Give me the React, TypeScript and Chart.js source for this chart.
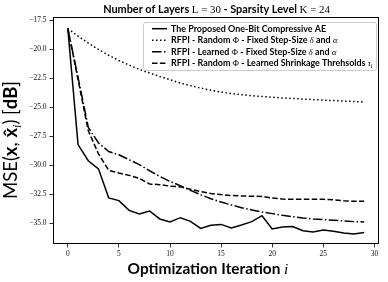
import React, { useEffect, useRef } from "react";
import { Chart, registerables } from "chart.js";

Chart.register(...registerables);

// ---------------- data ----------------
const iterations = [
  0, 1, 2, 3, 4, 5, 6, 7, 8, 9, 10, 11, 12, 13, 14, 15, 16, 17, 18, 19, 20, 21,
  22, 23, 24, 25, 26, 27, 28, 29,
];

const proposedAE = [
  -18.2, -28.2, -29.6, -30.3, -32.8, -33.04, -33.88, -34.19, -33.93, -34.62,
  -34.88, -34.51, -34.83, -35.43, -35.17, -35.09, -35.4, -35.14, -34.85, -34.34,
  -35.48, -35.31, -35.28, -35.63, -35.74, -35.57, -35.69, -35.83, -35.91, -35.78,
];

const randomPhiFixed = [
  -18.2, -18.85, -19.45, -20.0, -20.5, -20.95, -21.35, -21.72, -22.03, -22.33,
  -22.6, -22.9, -23.12, -23.33, -23.52, -23.67, -23.8, -23.9, -23.99, -24.06,
  -24.12, -24.18, -24.23, -24.28, -24.32, -24.37, -24.41, -24.45, -24.49, -24.53,
];

const learnedPhiFixed = [
  -18.2, -22.4, -26.7, -28.07, -28.8, -29.08, -29.51, -29.94, -30.46, -30.95,
  -31.38, -31.75, -32.16, -32.53, -32.87, -33.16, -33.41, -33.65, -33.84, -34.02,
  -34.16, -34.31, -34.42, -34.53, -34.62, -34.68, -34.74, -34.79, -34.85, -34.88,
];

const randomPhiLearnedTau = [
  -18.2, -22.6, -27.0, -29.0, -30.43, -30.66, -30.86, -31.12, -31.6, -31.66,
  -31.79, -31.85, -32.05, -32.25, -32.42, -32.52, -32.6, -32.64, -32.66, -32.68,
  -32.82, -32.9, -32.93, -32.93, -32.93, -32.93, -32.96, -33.04, -33.1, -33.1,
];

const xTickValues = [0, 5, 10, 15, 20, 25, 30];
const yTickValues = [-35, -32.5, -30, -27.5, -25, -22.5, -20, -17.5];

// ---------------- text helpers ----------------
const SANS = '"Lato", "DejaVu Sans", sans-serif';
const SERIF = '"Liberation Serif", "DejaVu Serif", serif';

type Seg = { t: string; s: string; k?: number; dy?: number };

function fontOf(style: string, size: number) {
  switch (style) {
    case "b":
      return `bold ${size}px ${SANS}`;
    case "r":
      return `${size}px ${SANS}`;
    case "m":
      return `${size}px ${SERIF}`;
    case "mi":
      return `italic ${size}px ${SERIF}`;
    case "mb":
      return `bold ${size}px ${SERIF}`;
    default:
      return `${size}px ${SANS}`;
  }
}

function measureSegs(ctx: CanvasRenderingContext2D, segs: Seg[], size: number) {
  let w = 0;
  for (const sg of segs) {
    ctx.font = fontOf(sg.s, size * (sg.k || 1));
    w += ctx.measureText(sg.t).width;
  }
  return w;
}

function fitSize(ctx: CanvasRenderingContext2D, segs: Seg[], target: number) {
  const w = measureSegs(ctx, segs, 10);
  return (10 * target) / w;
}

function drawSegs(
  ctx: CanvasRenderingContext2D,
  segs: Seg[],
  size: number,
  x0: number,
  y: number
) {
  let x = x0;
  ctx.textBaseline = "alphabetic";
  ctx.textAlign = "left";
  for (const sg of segs) {
    const sz = size * (sg.k || 1);
    ctx.font = fontOf(sg.s, sz);
    ctx.fillText(sg.t, x, y + (sg.dy || 0) * size);
    x += ctx.measureText(sg.t).width;
  }
}

const titleSegs: Seg[] = [
  { t: "Number of Layers ", s: "b" },
  { t: "L = 30", s: "m" },
  { t: " - Sparsity Level ", s: "b" },
  { t: "K = 24", s: "m" },
];

const legendRows: Seg[][] = [
  [{ t: "The Proposed One-Bit Compressive AE", s: "b" }],
  [
    { t: "RFPI - Random ", s: "b" },
    { t: "Φ", s: "m" },
    { t: " - Fixed Step-Size ", s: "b" },
    { t: "δ", s: "mi" },
    { t: " and ", s: "b" },
    { t: "α", s: "mi" },
  ],
  [
    { t: "RFPI - Learned ", s: "b" },
    { t: "Φ", s: "m" },
    { t: " - Fixed Step-Size ", s: "b" },
    { t: "δ", s: "mi" },
    { t: " and ", s: "b" },
    { t: "α", s: "mi" },
  ],
  [
    { t: "RFPI - Random ", s: "b" },
    { t: "Φ", s: "m" },
    { t: " - Learned Shrinkage Threhsolds ", s: "b" },
    { t: "τ", s: "mi" },
    { t: "i", s: "mi", k: 0.7, dy: 0.2 },
  ],
];

const legendDashes: number[][] = [[], [1.5, 2.5], [9.6, 2.4, 1.5, 2.4], [5.5, 2.4]];

const xLabelSegs: Seg[] = [
  { t: "Optimization Iteration ", s: "b" },
  { t: "i", s: "mi" },
];

const yLabelSegs: Seg[] = [
  { t: "MSE(", s: "r" },
  { t: "x", s: "b" },
  { t: ", ", s: "r" },
  { t: "x\u0302", s: "b" },
  { t: "i", s: "mi", k: 0.65, dy: 0.2 },
  { t: ") [", s: "r" },
  { t: "dB", s: "b" },
  { t: "]", s: "r" },
];

function roundRect(ctx: CanvasRenderingContext2D, x: number, y: number, w: number, h: number, r: number) {
  ctx.beginPath();
  ctx.moveTo(x + r, y);
  ctx.lineTo(x + w - r, y);
  ctx.arcTo(x + w, y, x + w, y + r, r);
  ctx.lineTo(x + w, y + h - r);
  ctx.arcTo(x + w, y + h, x + w - r, y + h, r);
  ctx.lineTo(x + r, y + h);
  ctx.arcTo(x, y + h, x, y + h - r, r);
  ctx.lineTo(x, y + r);
  ctx.arcTo(x, y, x + r, y, r);
  ctx.closePath();
}

const decorPlugin = {
  id: "decor",
  afterDatasetsDraw(chart: any) {
    const ctx: CanvasRenderingContext2D = chart.ctx;
    const ca = chart.chartArea;
    ctx.save();
    // frame
    ctx.strokeStyle = "#000";
    ctx.lineWidth = 1;
    ctx.strokeRect(Math.round(ca.left) + 0.5, Math.round(ca.top) + 0.5, Math.round(ca.right - ca.left) - 1, Math.round(ca.bottom - ca.top) - 1);

    // legend
    const lx = 143, ly = 22, lw = 233, lh = 48;
    roundRect(ctx, lx + 0.5, ly + 0.5, lw, lh, 2.5);
    ctx.fillStyle = "rgba(255,255,255,0.8)";
    ctx.fill();
    ctx.strokeStyle = "#cccccc";
    ctx.lineWidth = 1;
    ctx.stroke();
    const lsize = fitSize(ctx, legendRows[3], 202);
    const rowY = [28.7, 40.2, 51.7, 63.2];
    legendRows.forEach((row, i) => {
      ctx.beginPath();
      ctx.setLineDash(legendDashes[i]);
      ctx.strokeStyle = "#000";
      ctx.lineWidth = 1.5;
      ctx.moveTo(152, rowY[i]);
      ctx.lineTo(167, rowY[i]);
      ctx.stroke();
      ctx.setLineDash([]);
      ctx.fillStyle = "#000";
      drawSegs(ctx, row, lsize, 171, rowY[i] + lsize * 0.36);
    });

    // title
    const tsize = fitSize(ctx, titleSegs, 227);
    const tw = measureSegs(ctx, titleSegs, tsize);
    ctx.fillStyle = "#000";
    drawSegs(ctx, titleSegs, tsize, 216.5 - tw / 2, 13);

    // x label
    const xsize = fitSize(ctx, xLabelSegs, 161);
    const xw = measureSegs(ctx, xLabelSegs, xsize);
    drawSegs(ctx, xLabelSegs, xsize, 208 - xw / 2, 274);

    // y label (rotated)
    const ysize = fitSize(ctx, yLabelSegs, 118);
    const yw = measureSegs(ctx, yLabelSegs, ysize);
    ctx.translate(17, 140);
    ctx.rotate(-Math.PI / 2);
    drawSegs(ctx, yLabelSegs, ysize, -yw / 2, 0);
    ctx.restore();
  },
};

function mk(data: number[]) {
  return iterations.map((x, i) => ({ x, y: data[i] }));
}

export default function App() {
  const ref = useRef<HTMLCanvasElement | null>(null);
  useEffect(() => {
    document.body.style.margin = "0";
    const canvas = ref.current!;
    const tickFont = { family: SERIF, size: 7.5 };
    const common = {
      borderColor: "#000",
      borderWidth: 1.5,
      pointRadius: 0,
      fill: false,
      tension: 0,
    };
    const chart = new Chart(canvas, {
      type: "line",
      data: {
        datasets: [
          { ...common, label: "The Proposed One-Bit Compressive AE", data: mk(proposedAE) },
          { ...common, label: "RFPI - Random Φ - Fixed Step-Size δ and α", data: mk(randomPhiFixed), borderDash: [1.5, 2.5] },
          { ...common, label: "RFPI - Learned Φ - Fixed Step-Size δ and α", data: mk(learnedPhiFixed), borderDash: [9.6, 2.4, 1.5, 2.4] },
          { ...common, label: "RFPI - Random Φ - Learned Shrinkage Threhsolds τi", data: mk(randomPhiLearnedTau), borderDash: [5.5, 2.4] },
        ],
      } as any,
      options: {
        responsive: false,
        animation: false,
        devicePixelRatio: 1,
        layout: { padding: { top: 17, right: 9, left: 0, bottom: 0 } },
        plugins: {
          legend: { display: false },
          title: { display: false },
          tooltip: { enabled: false },
        },
        scales: {
          x: {
            type: "linear",
            min: -1.45,
            max: 30.45,
            afterBuildTicks: (ax: any) => {
              ax.ticks = xTickValues.map((v) => ({ value: v }));
            },
            afterFit: (s: any) => {
              s.height = 38;
            },
            grid: { drawOnChartArea: false, drawTicks: true, tickLength: 3.5, tickColor: "#000", tickWidth: 0.8 },
            border: { display: false },
            ticks: {
              font: tickFont,
              color: "#111",
              padding: 2,
              maxRotation: 0,
              autoSkip: false,
              callback: (v: any) => String(v),
            },
          },
          y: {
            type: "linear",
            min: -36.78,
            max: -17.2,
            afterBuildTicks: (ax: any) => {
              ax.ticks = yTickValues.map((v) => ({ value: v }));
            },
            afterFit: (s: any) => {
              s.width = 53;
            },
            grid: { drawOnChartArea: false, drawTicks: true, tickLength: 3.5, tickColor: "#000", tickWidth: 0.8 },
            border: { display: false },
            ticks: {
              font: tickFont,
              color: "#111",
              padding: 3,
              autoSkip: false,
              callback: (v: any) => (v < 0 ? "\u2212" : "") + Math.abs(v).toFixed(1),
            },
          },
        },
      } as any,
      plugins: [decorPlugin],
    });
    return () => chart.destroy();
  }, []);
  return (
    <div style={{ position: "absolute", left: 0, top: 0, width: 388, height: 282 }}>
      <canvas ref={ref} width={388} height={282} style={{ width: 388, height: 282, display: "block" }} />
    </div>
  );
}
